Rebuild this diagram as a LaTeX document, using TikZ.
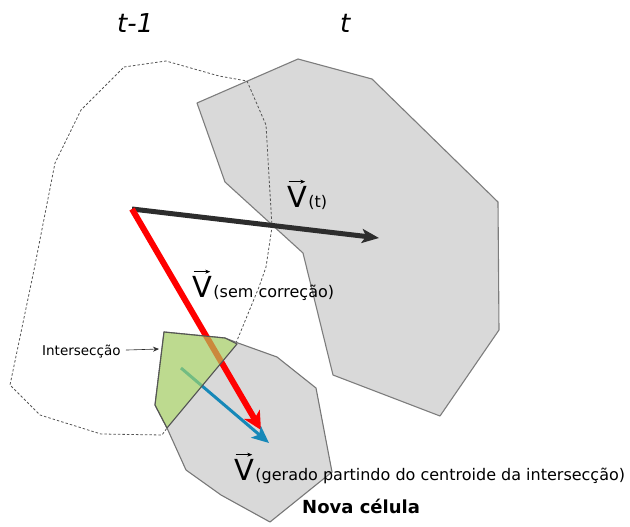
\documentclass[tikz,border=0pt]{standalone}
\usepackage{fontspec}
\setmainfont{DejaVu Sans}
\usetikzlibrary{arrows.meta}
\definecolor{cellgray}{RGB}{217,217,217}
\definecolor{edgegray}{RGB}{125,125,125}
\definecolor{darkedge}{RGB}{85,85,85}
\definecolor{intgreen}{RGB}{172,220,98}
\definecolor{vecblue}{RGB}{22,136,184}
\definecolor{vecblack}{RGB}{45,45,45}
\tikzset{
  cell/.style={fill=cellgray, draw=edgegray, line width=1.1pt, line join=round},
  oldcell/.style={draw=darkedge, line width=0.8pt, dash pattern=on 2.5pt off 2pt},
  vbig/.style={font=\fontsize{29}{29}\selectfont, inner sep=0pt, anchor=base west},
  vsub/.style={font=\fontsize{16}{16}\selectfont, inner sep=0pt, anchor=base west},
  vecarr/.style={line width=0.6pt, -{Stealth[length=5pt,width=4pt]}},
  ttl/.style={font=\fontsize{26}{26}\selectfont\itshape, inner sep=0pt, anchor=base west},
}
\begin{document}
\begin{tikzpicture}[x=1pt,y=-1pt]
\useasboundingbox (0,0) rectangle (630,527);

% cell at t
\draw[cell] (197,103) -- (298,59) -- (372,79) -- (498,202) -- (499,330) -- (440,416) -- (333,375) -- (303,253) -- (225,182) -- cycle;

% cell at t-1 (dashed)
\draw[oldcell] (124,67) -- (166,61) -- (219,76) -- (247,81) -- (266,125) -- (272,227) -- (266,267) -- (259,287) -- (236,343) -- (167,428) -- (162,435) -- (101,434) -- (40,415) -- (10,385) -- (34,270) -- (55,163) -- (81,110) -- cycle;

% new cell
\draw[cell, draw=darkedge!80] (164,332) -- (225,338) -- (238,343) -- (277,357) -- (316,388) -- (332,472) -- (270,522) -- (221,495) -- (186,470) -- (167,428) -- (155,405) -- cycle;

% vectors
\coordinate (c0) at (132,209);
\coordinate (ct) at (379,238);
\coordinate (cr) at (261,430);
\coordinate (cb0) at (181,368);
\coordinate (cb) at (269,443);
\draw[vecblack, line width=5pt, -{Stealth[length=17pt,width=14pt,inset=4pt]}] (c0) -- (ct);
\draw[red, line width=6pt, -{Stealth[length=18pt,width=18pt,inset=5pt]}] (c0) -- (cr);
\draw[vecblue, line width=3pt, -{Stealth[length=17pt,width=15pt,inset=4pt]}] (cb0) -- (cb);

% intersection
\draw[fill=intgreen, fill opacity=0.62, draw=darkedge, line width=1.1pt, line join=round] (164,332) -- (225,338) -- (237,344) -- (167,428) -- (155,405) -- cycle;

% titles
\node[ttl] (tm1) at (117,33) {t-1};
\node[ttl] (tt) at (340,33) {t};

% labels
\node[vbig] (v1) at (287,207) {V};
\node[vsub] (v1s) at (v1.base east) {\hspace{1pt}(t)};
\draw[vecarr] ([xshift=1.5pt,yshift=4pt]v1.north west) -- ([xshift=-2pt,yshift=4pt]v1.north east);

\node[vbig] (v2) at (192,297) {V};
\node[vsub] (v2s) at (v2.base east) {\hspace{1pt}(sem correção)};
\draw[vecarr] ([xshift=1.5pt,yshift=4pt]v2.north west) -- ([xshift=-2pt,yshift=4pt]v2.north east);

\node[vbig] (v3) at (234,480) {V};
\node[vsub] (v3s) at (v3.base east) {\hspace{1pt}(gerado partindo do centroide da intersecção)};
\draw[vecarr] ([xshift=1.5pt,yshift=4pt]v3.north west) -- ([xshift=-2pt,yshift=4pt]v3.north east);

\node[font=\fontsize{18}{18}\selectfont\bfseries, inner sep=0pt, anchor=base west] (nova) at (302,513) {Nova célula};

\node[font=\fontsize{13.5}{13.5}\selectfont, inner sep=0pt, anchor=base west] (inter) at (42,355) {Intersecção};
\coordinate (ig) at (159,349);
\draw[line width=0.6pt, draw=vecblack, -{Stealth[length=6pt,width=5pt]}] ([xshift=5pt,yshift=1pt]inter.east) -- (ig);
\end{tikzpicture}
\end{document}
